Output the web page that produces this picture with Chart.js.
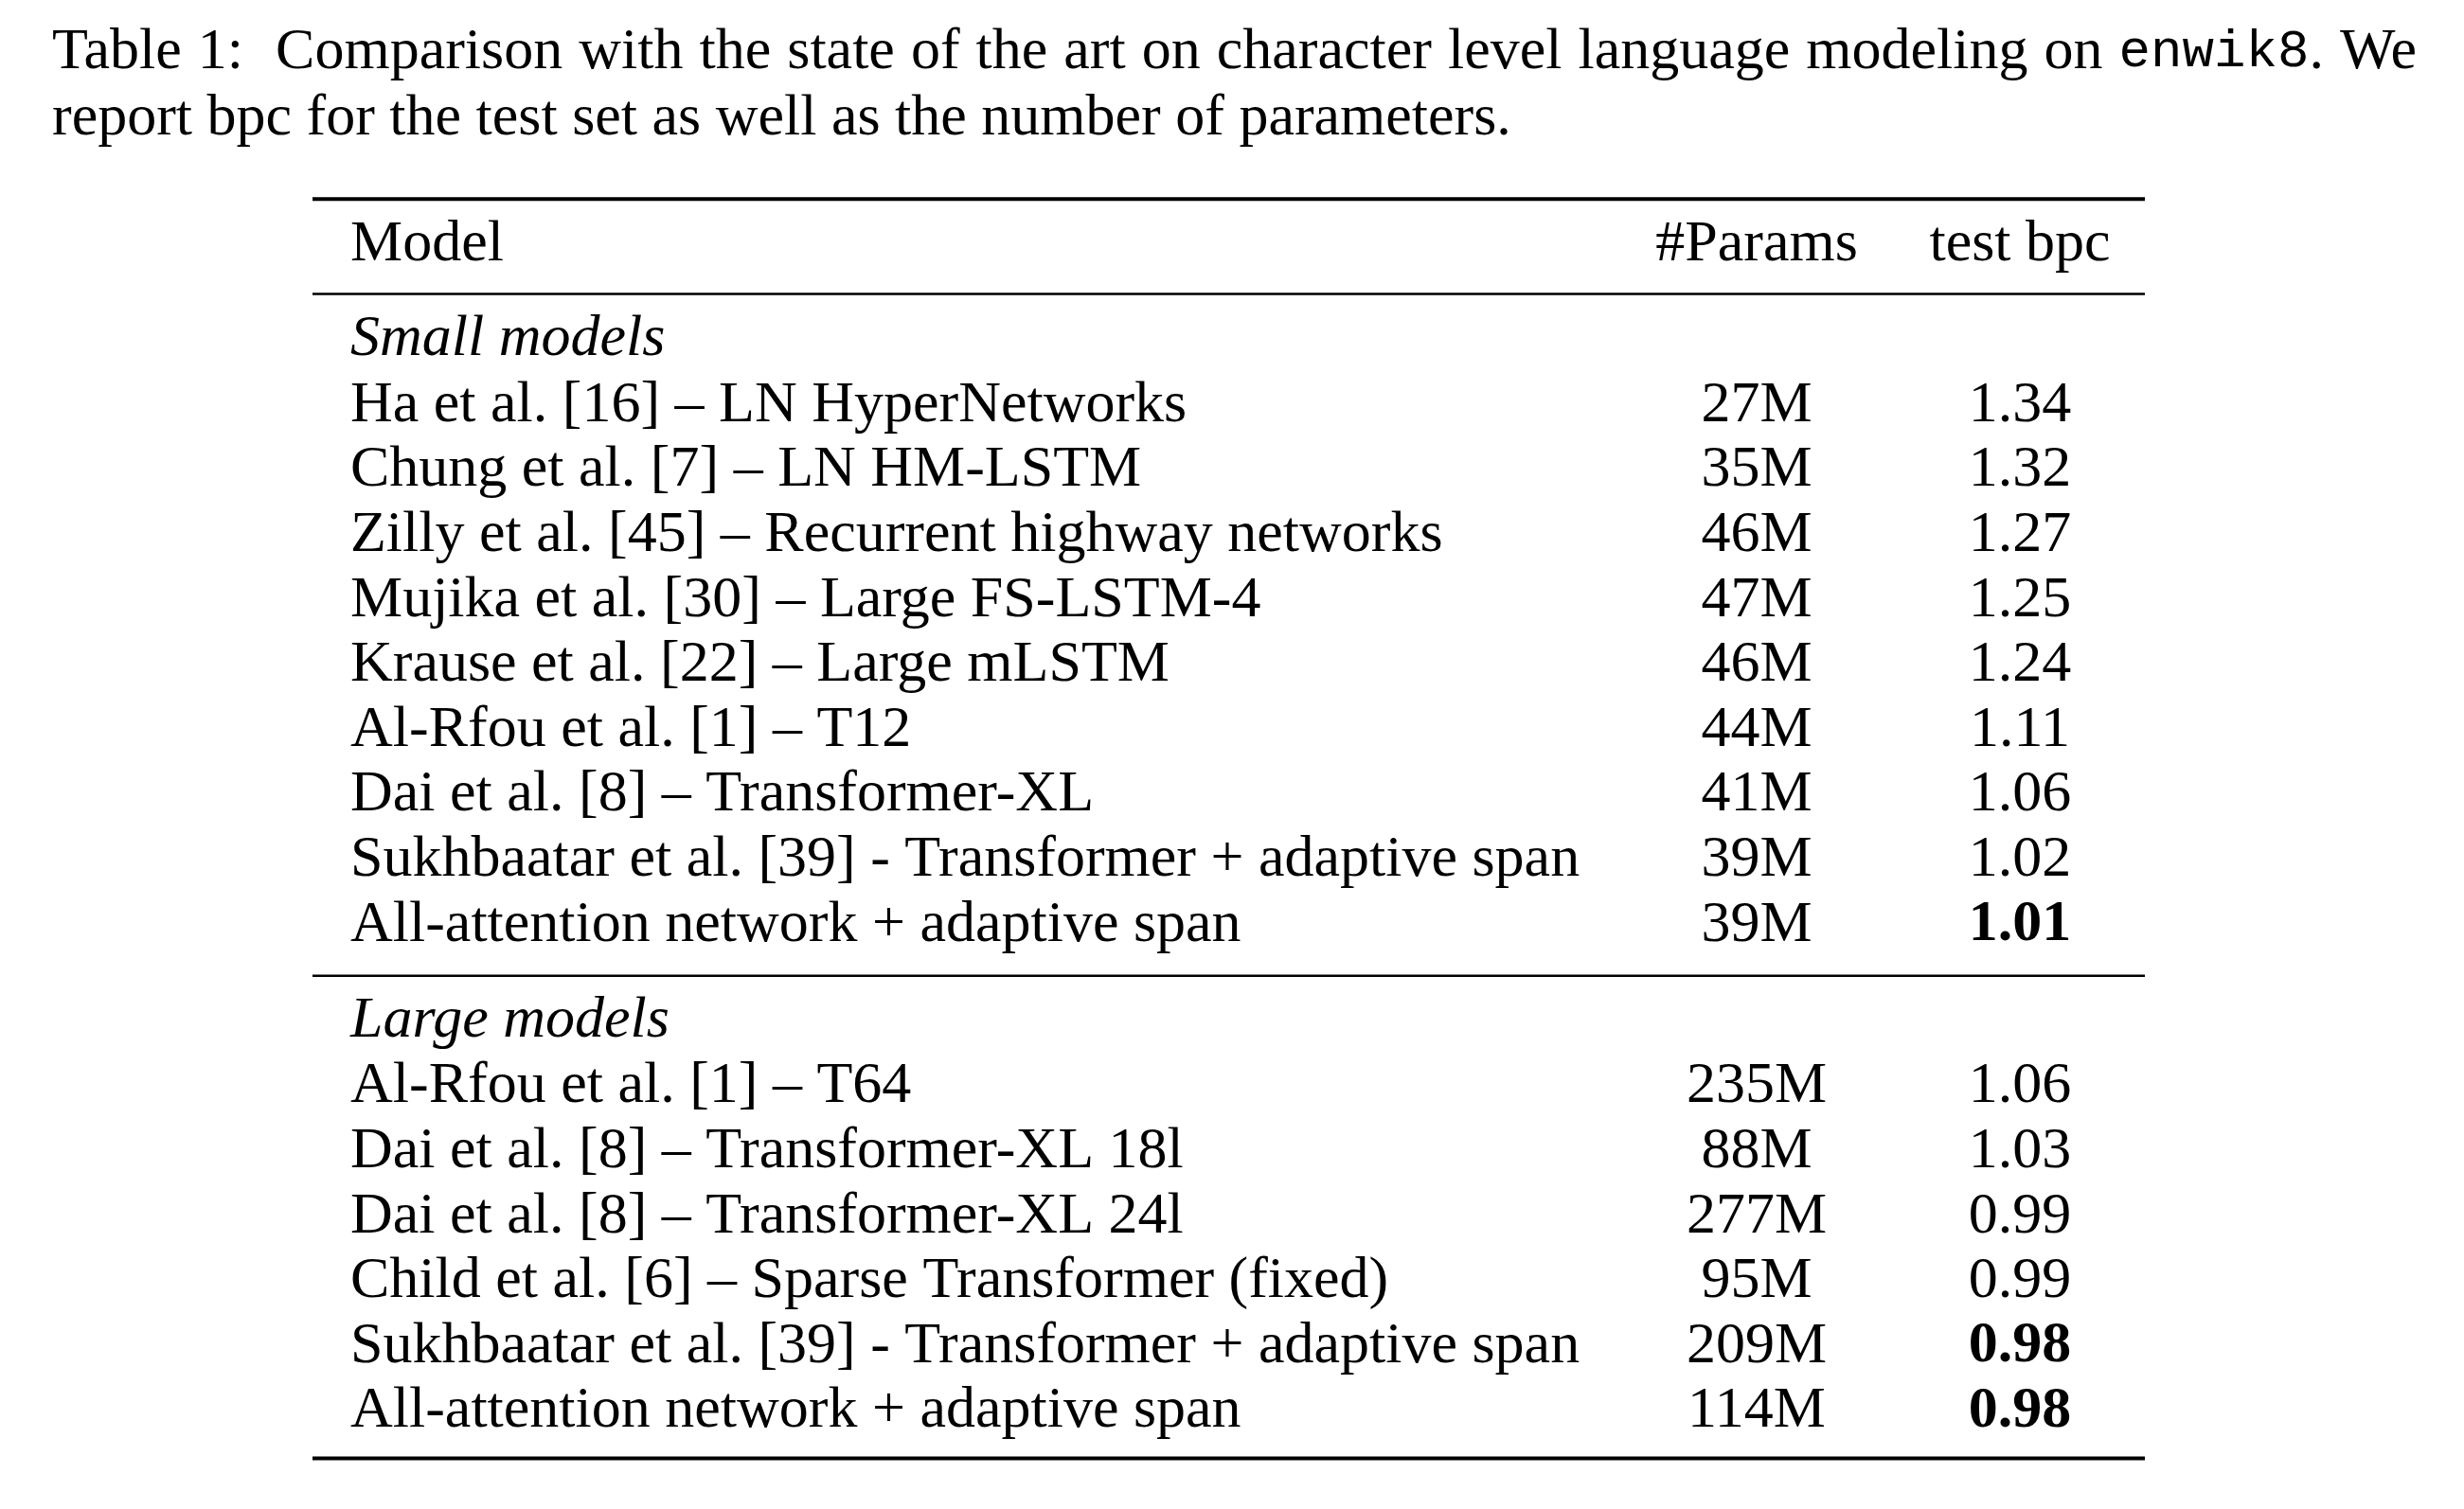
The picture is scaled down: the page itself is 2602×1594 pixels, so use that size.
<!DOCTYPE html>
<html><head><meta charset="utf-8">
<script src="https://cdn.jsdelivr.net/npm/chart.js@4/dist/chart.umd.min.js"></script>
<style>html,body{margin:0;padding:0;background:#fff}#wrap{width:2602px;height:1594px;position:relative}</style>
</head><body><div id="wrap"><canvas id="c"></canvas></div>
<script>
// table content
const headers = ["Model", "#Params", "test bpc"];
const groupNames = ["Small models", "Large models"];
const smallModels = ["Ha et al. [16] \u2013 LN HyperNetworks", "Chung et al. [7] \u2013 LN HM-LSTM",
  "Zilly et al. [45] \u2013 Recurrent highway networks", "Mujika et al. [30] \u2013 Large FS-LSTM-4",
  "Krause et al. [22] \u2013 Large mLSTM", "Al-Rfou et al. [1] \u2013 T12", "Dai et al. [8] \u2013 Transformer-XL",
  "Sukhbaatar et al. [39] - Transformer + adaptive span", "All-attention network + adaptive span"];
const smallParams = ["27M", "35M", "46M", "47M", "46M", "44M", "41M", "39M", "39M"];
const smallBpc = ["1.34", "1.32", "1.27", "1.25", "1.24", "1.11", "1.06", "1.02", "1.01"];
const smallBold = [false, false, false, false, false, false, false, false, true];
const largeModels = ["Al-Rfou et al. [1] \u2013 T64", "Dai et al. [8] \u2013 Transformer-XL 18l",
  "Dai et al. [8] \u2013 Transformer-XL 24l", "Child et al. [6] \u2013 Sparse Transformer (fixed)",
  "Sukhbaatar et al. [39] - Transformer + adaptive span", "All-attention network + adaptive span"];
const largeParams = ["235M", "88M", "277M", "95M", "209M", "114M"];
const largeBpc = ["1.06", "1.03", "0.99", "0.99", "0.98", "0.98"];
const largeBold = [false, false, false, false, true, true];

// row slots (y axis, in row units)
const slot = {caption1: -2.97, caption2: -1.95, topRule: -0.71, header: 0, headRule: 0.75,
  smallLabel: 1.46, smallFirst: 2.47, midRule: 11.25, largeLabel: 11.95, largeFirst: 12.96, bottomRule: 18.68};
// column slots (x axis)
const col = {caption: 55, captionR: 2552, ruleL: 330, ruleR: 2265, model: 370, params: 1855, bpc: 2133};

const F = '"Liberation Serif", "Times New Roman", serif';
const SZ = 62;

const tablePlugin = {
  id: 'table',
  afterDraw(chart) {
    const ctx = chart.ctx, xs = chart.scales.x, ys = chart.scales.y;
    const X = v => xs.getPixelForValue(v), Y = v => ys.getPixelForValue(v);
    ctx.save();
    ctx.fillStyle = '#000'; ctx.strokeStyle = '#000';
    ctx.textBaseline = 'middle';
    const txt = (s, x, y, align, style) => {
      ctx.font = (style || '') + ' ' + SZ + 'px ' + F;
      ctx.textAlign = align; ctx.fillText(s, x, y);
    };
    // caption, first line justified
    ctx.textAlign = 'left';
    const serif = SZ + 'px ' + F, mono = (SZ * 0.9) + 'px "Liberation Mono", monospace';
    const parts = [["Table", serif], ["1:", serif], ["", serif], ["Comparison", serif], ["with", serif], ["the", serif],
      ["state", serif], ["of", serif], ["the", serif], ["art", serif], ["on", serif], ["character", serif], ["level", serif],
      ["language", serif], ["modeling", serif], ["on", serif], ["enwik8|.", mono], ["We", serif]];
    const wOf = p => p[0].split('|').reduce((a, s, i) => { ctx.font = i ? serif : p[1]; return a + ctx.measureText(s).width; }, 0);
    const total = parts.reduce((a, p) => a + wOf(p), 0);
    const gap = (X(col.captionR) - X(col.caption) - total) / (parts.length - 1);
    let x = X(col.caption);
    parts.forEach(p => {
      p[0].split('|').forEach((s, i) => { ctx.font = i ? serif : p[1]; ctx.fillText(s, x, Y(slot.caption1)); x += ctx.measureText(s).width; });
      x += gap;
    });
    ctx.font = serif;
    ctx.fillText("report bpc for the test set as well as the number of parameters.", X(col.caption), Y(slot.caption2));
    // rules
    const rule = (y, w) => { ctx.lineWidth = w; ctx.beginPath(); ctx.moveTo(X(col.ruleL), Y(y)); ctx.lineTo(X(col.ruleR), Y(y)); ctx.stroke(); };
    rule(slot.topRule, 4); rule(slot.headRule, 2.5); rule(slot.midRule, 2.5); rule(slot.bottomRule, 4);
    // header
    txt(headers[0], X(col.model), Y(slot.header), 'left');
    txt(headers[1], X(col.params), Y(slot.header), 'center');
    txt(headers[2], X(col.bpc), Y(slot.header), 'center');
    txt(groupNames[0], X(col.model), Y(slot.smallLabel), 'left', 'italic');
    txt(groupNames[1], X(col.model), Y(slot.largeLabel), 'left', 'italic');
    const rows = (models, params, bpc, bold, first) => models.forEach((m, i) => {
      const y = Y(first + i);
      txt(m, X(col.model), y, 'left');
      txt(params[i], X(col.params), y, 'center');
      txt(bpc[i], X(col.bpc), y, 'center', bold[i] ? 'bold' : '');
    });
    rows(smallModels, smallParams, smallBpc, smallBold, slot.smallFirst);
    rows(largeModels, largeParams, largeBpc, largeBold, slot.largeFirst);
    ctx.restore();
  }
};

new Chart(document.getElementById('c'), {
  type: 'scatter',
  data: { datasets: [{ data: [] }] },
  options: {
    responsive: true, maintainAspectRatio: false, animation: false, devicePixelRatio: 1,
    layout: { padding: 0 },
    plugins: { legend: { display: false }, tooltip: { enabled: false } },
    scales: {
      x: { type: 'linear', min: 0, max: 2602, display: false },
      y: { type: 'linear', min: -259 / 68.6, max: (1594 - 259) / 68.6, reverse: true, display: false }
    }
  },
  plugins: [tablePlugin]
});
</script></body></html>
